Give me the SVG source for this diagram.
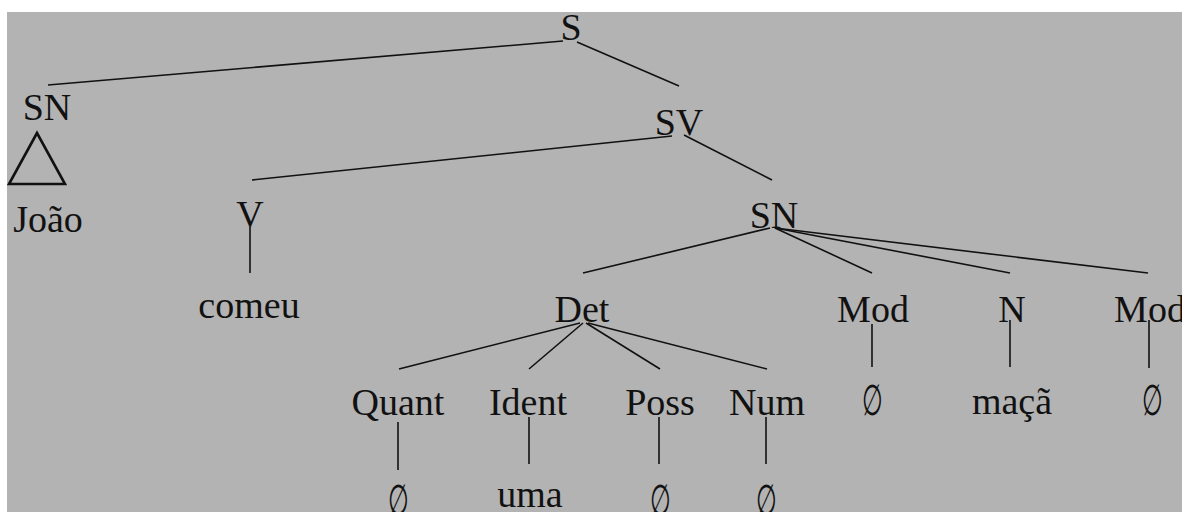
<svg xmlns="http://www.w3.org/2000/svg" width="1182" height="512" viewBox="0 0 1182 512">
  <style>
    .lbl { font-family: "Liberation Serif", "Times New Roman", serif; font-size: 38px; fill: #111; text-anchor: middle; }
    .empty { font-family: "Liberation Serif", "DejaVu Serif", serif; font-size: 38px; fill: #111; text-anchor: middle; }
    .edge { stroke: #111; stroke-width: 1.6; fill: none; }
  </style>
  <rect x="0" y="0" width="1182" height="512" fill="#ffffff"/>
  <rect x="7" y="12" width="1175" height="500" fill="#b3b3b3"/>

  <!-- tree branches -->
  <g id="connectors">
    <line class="edge" x1="563" y1="41" x2="48" y2="85"/>
    <line class="edge" x1="577" y1="42" x2="679" y2="86"/>
    <line class="edge" x1="672" y1="136" x2="252" y2="180"/>
    <line class="edge" x1="684" y1="135" x2="772" y2="180"/>
    <line class="edge" x1="250" y1="227" x2="250" y2="273"/>
    <line class="edge" x1="770" y1="228" x2="583" y2="273"/>
    <line class="edge" x1="775" y1="228" x2="872" y2="273"/>
    <line class="edge" x1="775" y1="228" x2="1010" y2="273"/>
    <line class="edge" x1="775" y1="228" x2="1148" y2="273"/>
    <line class="edge" x1="580" y1="323" x2="399" y2="369"/>
    <line class="edge" x1="583" y1="323" x2="529" y2="369"/>
    <line class="edge" x1="586" y1="323" x2="660" y2="369"/>
    <line class="edge" x1="588" y1="323" x2="767" y2="369"/>
    <line class="edge" x1="872" y1="324" x2="872" y2="367"/>
    <line class="edge" x1="1010" y1="320" x2="1010" y2="367"/>
    <line class="edge" x1="1149" y1="320" x2="1149" y2="368"/>
    <line class="edge" x1="398" y1="422" x2="398" y2="470"/>
    <line class="edge" x1="529" y1="417" x2="529" y2="464"/>
    <line class="edge" x1="659" y1="417" x2="659" y2="464"/>
    <line class="edge" x1="766" y1="417" x2="766" y2="464"/>
  </g>

  <g id="n-S"><text class="lbl" x="571" y="40">S</text></g>
  <g id="n-SN1"><text class="lbl" x="47" y="120">SN</text></g>
  <g id="n-tri"><polygon points="37,133 9,184 65,184" fill="none" stroke="#111" stroke-width="2.6"/></g>
  <g id="n-joao"><text class="lbl" x="48" y="232">João</text></g>
  <g id="n-SV"><text class="lbl" x="679" y="135">SV</text></g>
  <g id="n-V"><text class="lbl" x="250" y="227">V</text></g>
  <g id="n-comeu"><text class="lbl" x="249" y="318">comeu</text></g>
  <g id="n-SN2"><text class="lbl" x="774" y="228">SN</text></g>
  <g id="n-Det"><text class="lbl" x="582" y="322">Det</text></g>
  <g id="n-Mod1"><text class="lbl" x="873" y="322">Mod</text></g>
  <g id="n-N"><text class="lbl" x="1012" y="322">N</text></g>
  <g id="n-Mod2"><text class="lbl" x="1150" y="322">Mod</text></g>
  <g id="n-Quant"><text class="lbl" x="398" y="415">Quant</text></g>
  <g id="n-Ident"><text class="lbl" x="528" y="415">Ident</text></g>
  <g id="n-Poss"><text class="lbl" x="660" y="415">Poss</text></g>
  <g id="n-Num"><text class="lbl" x="767" y="415">Num</text></g>
  <!-- empty-set marks, narrowed to the tall slashed-oval form -->
  <g id="n-mod1-empty"><text class="empty" transform="translate(872,415) scale(0.62,1.12)">∅</text></g>
  <g id="n-maca"><text class="lbl" x="1012" y="414">maçã</text></g>
  <g id="n-mod2-empty"><text class="empty" transform="translate(1152,415) scale(0.62,1.12)">∅</text></g>
  <g id="n-quant-empty"><text class="empty" transform="translate(398,515) scale(0.62,1.12)">∅</text></g>
  <g id="n-uma"><text class="lbl" x="530" y="507">uma</text></g>
  <g id="n-poss-empty"><text class="empty" transform="translate(660,515) scale(0.62,1.12)">∅</text></g>
  <g id="n-num-empty"><text class="empty" transform="translate(766,515) scale(0.62,1.12)">∅</text></g>
</svg>
